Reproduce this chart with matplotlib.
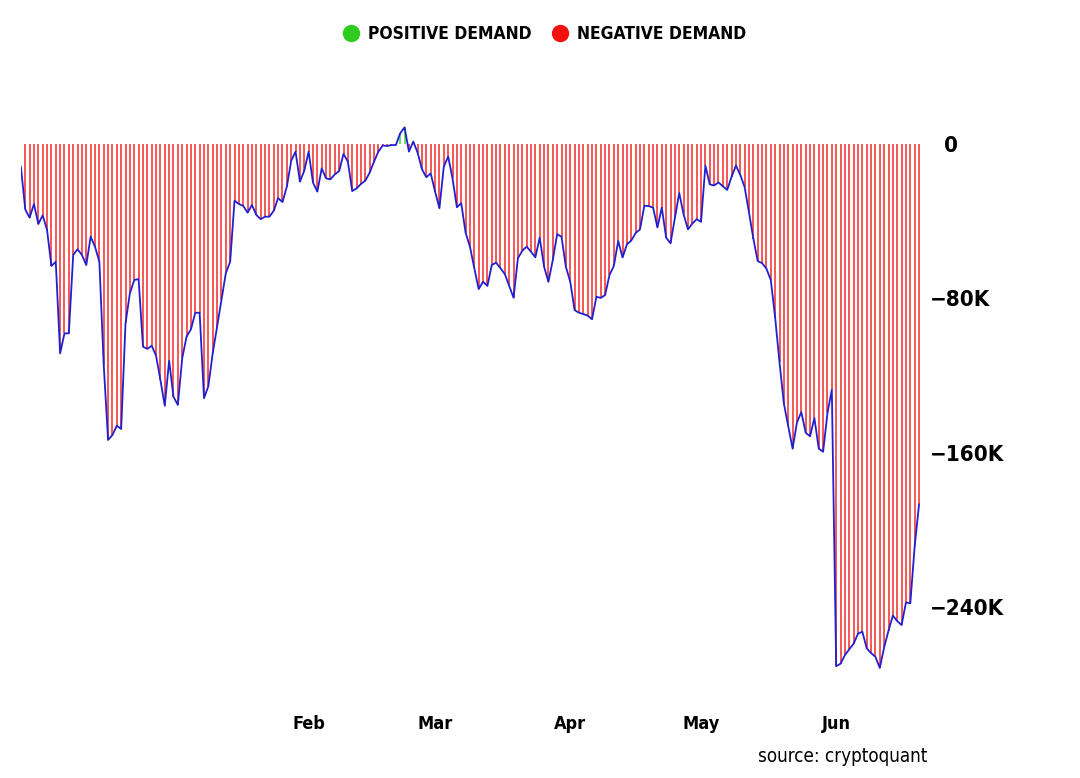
import numpy as np
import pandas as pd
import matplotlib
matplotlib.use("Agg")
import matplotlib.pyplot as plt
import matplotlib.dates as mdates
from matplotlib.lines import Line2D
from matplotlib.ticker import FuncFormatter

plt.rcParams['font.family'] = ['DejaVu Sans']
plt.rcParams['font.stretch'] = 'condensed'

# daily demand values, thousands
demand_k = [
    # late Nov -> Jan
    -11.5, -33.7, -38.0, -30.9, -41.3, -36.8, -44.4, -63.1, -60.9, -108.5,
    -98.1, -98.1, -57.4, -54.4, -57.4, -62.6, -47.9, -53.1, -60.9, -114.5,
    -153.5, -150.9, -146.1, -147.8, -92.9, -77.3, -70.4, -69.9, -105.0, -106.2,
    -104.5, -109.7, -122.3, -135.7,
    -112.3, -131.0, -135.3, -111.1, -99.8, -96.0, -87.4, -87.4, -131.8, -125.5,
    -108.5, -94.7, -80.8, -66.9, -60.9, -29.2, -30.9, -31.9, -35.4, -31.4,
    -36.6, -38.8, -37.5, -37.5, -34.4, -27.9, -29.9, -21.9, -8.4, -3.7,
    -19.3, -13.6, -3.7, -19.8, -24.5,
    # Feb -> early Mar
    -12.4, -17.6, -18.1, -15.5, -13.8, -4.9, -8.9, -24.2, -22.8, -20.5,
    -18.8, -14.6, -8.9, -3.7, -0.5, -0.8, -0.3, -0.3, 5.8, 8.9,
    -3.7, 1.5, -4.3, -12.9, -17.0, -15.0, -24.5, -33.1, -11.5, -6.3,
    -17.6, -32.6, -30.5, -45.8,
    # Mar -> Apr
    -53.1, -64.3, -75.1, -71.3, -73.5, -62.6, -61.4, -64.3, -67.3, -73.5,
    -79.6, -59.1, -55.2, -53.1, -55.7, -58.6, -48.4, -63.5, -71.3, -60.0,
    -46.6, -47.9, -63.5, -71.3, -86.0, -87.4, -88.1, -88.9, -90.8, -79.1,
    # Apr -> Jun
    -79.7, -78.2, -67.8, -63.1, -50.1, -58.7, -51.9, -49.9, -46.0, -44.1,
    -31.8, -32.0, -32.8, -43.1, -32.8, -48.4, -51.3, -38.2, -25.2, -36.3,
    -44.1, -41.1, -38.8, -40.2, -11.0, -20.7, -21.3, -19.7, -21.7, -23.6,
    -16.8, -11.0, -15.8, -22.1, -35.3, -48.9, -60.6, -61.6, -64.5, -70.4,
    -89.9, -113.2, -134.6, -146.3, -158.0, -144.4, -139.0, -149.7, -151.6, -142.1,
    -158.0, -159.6, -139.5, -127.4, -271.0, -269.7, -265.2, -262.2, -259.3, -254.1,
    -253.1, -261.7, -264.2, -266.1, -271.9, -261.2, -252.5, -244.7, -247.6, -249.6,
    -237.9, -238.3, -208.7, -187.0,
]
dates = pd.date_range("2023-11-27", periods=len(demand_k), freq="D")
values = np.array(demand_k) * 1000

y_ticks = [0, -80000, -160000, -240000]
month_ticks = pd.to_datetime(["2024-02-01", "2024-03-01", "2024-04-01", "2024-05-01", "2024-06-01"])

POS = "#2ecc1f"
NEG = "#f51010"
LINE = "#2020d0"

fig = plt.figure(figsize=(10.8, 7.78), dpi=100)
ax = fig.add_axes([0.019, 0.0967, 0.8333, 0.7547])

# one thin bar per day (first day has none in the original)
bar_colors = np.where(values[1:] >= 0, POS, NEG)
ax.vlines(dates[1:], 0, values[1:], colors=bar_colors, linewidth=1.1, alpha=0.9)
ax.plot(dates, values, color=LINE, linewidth=1.3, zorder=3)

ax.set_xlim(dates[0] - pd.Timedelta(hours=2), dates[-1] + pd.Timedelta(hours=8))
ax.set_ylim(-290000, 15000)

ax.yaxis.tick_right()
ax.set_yticks(y_ticks)
ax.yaxis.set_major_formatter(FuncFormatter(
    lambda v, p: "  0" if v == 0 else "\u2212%dK" % abs(v / 1000)))
ax.set_xticks(month_ticks)
ax.xaxis.set_major_formatter(mdates.DateFormatter("%b"))

ax.tick_params(axis="y", length=0, pad=7, labelsize=16)
ax.tick_params(axis="x", length=0, pad=9, labelsize=13)
for lab in ax.get_yticklabels() + ax.get_xticklabels():
    lab.set_fontweight("bold")
for sp in ax.spines.values():
    sp.set_visible(False)

handles = [
    Line2D([], [], marker="o", linestyle="none", markersize=11.5,
           markerfacecolor=POS, markeredgecolor=POS, label="POSITIVE DEMAND"),
    Line2D([], [], marker="o", linestyle="none", markersize=11.5,
           markerfacecolor=NEG, markeredgecolor=NEG, label="NEGATIVE DEMAND"),
]
leg = fig.legend(handles=handles, loc="center", bbox_to_anchor=(0.5, 0.956), ncol=2,
                 frameon=False, handletextpad=0.0, columnspacing=0.6,
                 prop={"weight": "bold", "size": 12.5, "stretch": "condensed"})

fig.text(0.859, 0.027, "source: cryptoquant", ha="right", va="center", fontsize=13.5)

fig.savefig("out.png", dpi=100)
